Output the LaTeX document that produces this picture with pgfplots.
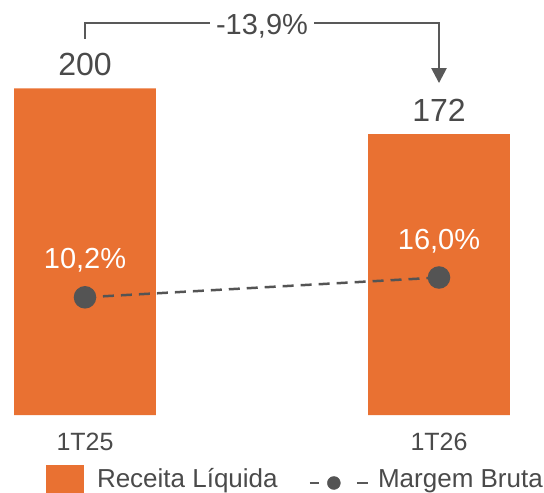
\documentclass[border=0pt]{standalone}
\usepackage{fontspec}
\setmainfont{Liberation Sans}
\usepackage{pgfplots}
\pgfplotsset{compat=1.18}
\usetikzlibrary{arrows.meta}
\definecolor{barorange}{HTML}{E97132}
\definecolor{txtgray}{HTML}{4A4A4A}
\definecolor{lngray}{HTML}{595959}
\definecolor{dotgray}{HTML}{545454}
\begin{document}
\begin{tikzpicture}[x=1pt,y=1pt]
\useasboundingbox (0,0) rectangle (544,493);
\pgfplotsset{
  base/.style={
    scale only axis, width=544pt, height=415pt,
    at={(0pt,78pt)}, anchor=south west,
    xmin=-0.24011, xmax=1.29661,
    axis line style={draw=none},
    major tick length=0pt,
    ytick=\empty,
    clip=false,
    /pgf/number format/assume math mode=true,
  }
}
\begin{axis}[base,
  ymin=0, ymax=254.05,
  xtick={0,1}, xticklabels={1T25,1T26},
  xticklabel style={anchor=base, yshift=-35pt, font=\fontsize{25}{30}\selectfont, text=txtgray},
  legend style={at={(0.08456,-0.2120)}, anchor=south west, draw=none, fill=none,
    inner sep=0pt, outer sep=0pt, font=\fontsize{26}{30}\selectfont, text=txtgray,
    cells={anchor=base west}, nodes={inner sep=0pt}, column sep=0pt},
  legend columns=2,
]
\addplot[ybar, bar width=0.4011, fill=barorange, draw=none,
  nodes near coords,
  nodes near coords style={anchor=base, yshift=13pt, font=\fontsize{32}{38}\selectfont, text=txtgray},
  legend image code/.code={\fill[barorange] (0pt,-15pt) rectangle (38pt,23pt); \path (51pt,0pt);}
] coordinates {(0,200) (1,172)};
\addlegendentry{Receita Líquida}
\addlegendimage{legend image code/.code={
  \path (-32pt,0pt) (68pt,0pt);
  \draw[lngray, line width=2.5pt] (0pt,5pt) -- (9pt,5pt);
  \fill[dotgray] (24pt,5pt) circle (6.5pt);
  \draw[lngray, line width=2.5pt] (47pt,5pt) -- (58pt,5pt);}}
\addlegendentry{Margem Bruta}
\draw[lngray, line width=2.5pt, -{Triangle[width=15pt,length=15pt]}]
  (axis cs:0,230.2) -- (axis cs:0,240) -- (axis cs:1,240) -- (axis cs:1,203.2);
\node[fill=white, inner xsep=6pt, inner ysep=2pt, anchor=base, text=txtgray,
  font=\fontsize{29}{34}\selectfont] at ([yshift=-12pt]axis cs:0.5,240) {-13,9\%};
\end{axis}
\begin{axis}[base, ymin=-24.27, ymax=97.28, xtick=\empty]
\addplot[dotgray, line width=2.5pt, dash pattern=on 11pt off 7pt,
  mark=*, mark size=10pt, mark options={solid, fill=dotgray, draw=none},
  nodes near coords, point meta=explicit symbolic,
  nodes near coords style={anchor=base, yshift=28.5pt, text=white, font=\fontsize{29}{34}\selectfont}
] coordinates {(0,10.2) [10,2\%] (1,16.0) [16,0\%]};
\end{axis}
\end{tikzpicture}
\end{document}
